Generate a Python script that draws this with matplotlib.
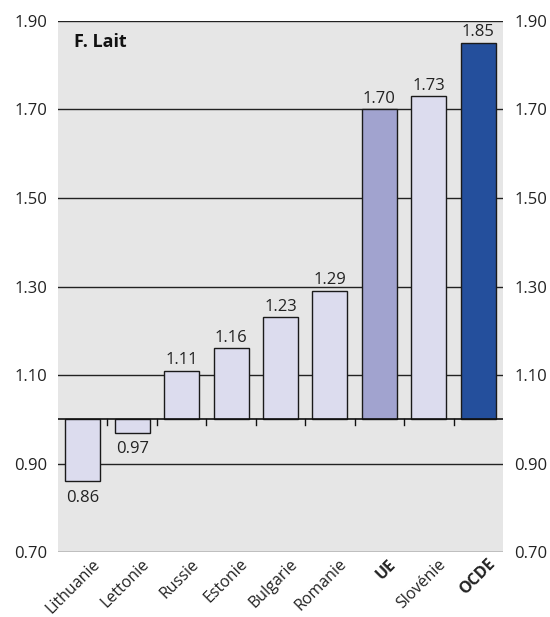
import matplotlib
matplotlib.use("Agg")
import matplotlib.pyplot as plt
import matplotlib.transforms as mtransforms
import numpy as np

# Milk: index values by country
categories = ["Lithuanie", "Lettonie", "Russie", "Estonie", "Bulgarie",
              "Romanie", "UE", "Slovénie", "OCDE"]
values = [0.86, 0.97, 1.11, 1.16, 1.23, 1.29, 1.70, 1.73, 1.85]
bold_labels = {"UE", "OCDE"}
bar_colors = ["#DCDCEE"] * 6 + ["#A1A3CF", "#DCDCEE", "#244F9C"]
yticks = [0.70, 0.90, 1.10, 1.30, 1.50, 1.70, 1.90]
baseline = 1.0
title = "F. Lait"

plt.rcParams["font.family"] = ["Open Sans", "DejaVu Sans"]

fig = plt.figure(figsize=(5.5, 6.17), dpi=100)
ax = fig.add_axes([0.1055, 0.1053, 0.809, 0.8607])
ax.set_facecolor("#E6E6E6")

x = np.arange(len(categories))
heights = [v - baseline for v in values]

# horizontal reference lines
for t in yticks:
    ax.axhline(t, color="#222222", lw=1.0, zorder=1)

ax.bar(x, heights, bottom=baseline, width=0.71, color=bar_colors,
       edgecolor="#1a1a1a", linewidth=1.0, zorder=2)

# baseline with small ticks between bars
ax.axhline(baseline, color="#111111", lw=1.2, zorder=3)
for b in x[:-1] + 0.5:
    ax.plot([b, b], [baseline, baseline - 0.014], color="#111111", lw=1.0,
            zorder=3, clip_on=False)

# value labels
for xi, v in zip(x, values):
    if v >= baseline:
        ax.text(xi, v + 0.006, f"{v:.2f}", ha="center", va="bottom",
                fontsize=12, color="#222222", zorder=4)
    else:
        ax.text(xi, v - 0.02, f"{v:.2f}", ha="center", va="top",
                fontsize=12, color="#222222", zorder=4)

ax.text(0.035, 0.977, title, transform=ax.transAxes, ha="left", va="top",
        fontsize=13, fontweight="bold", color="#111111", zorder=4)

ax.set_xlim(-0.5, len(categories) - 0.5)
ax.set_ylim(0.70, 1.90)
ax.set_yticks(yticks)
ax.set_yticklabels([f"{t:.2f}" for t in yticks])
ax.tick_params(axis="y", length=0, pad=8, labelsize=12, labelcolor="#222222",
               left=True, right=True, labelleft=True, labelright=True)

ax.set_xticks(x)
ax.set_xticklabels(categories)
ax.tick_params(axis="x", length=0, pad=3, labelsize=11.5, labelcolor="#222222")
shift = mtransforms.ScaledTranslation(9 / 100, 0, fig.dpi_scale_trans)
for lbl in ax.get_xticklabels():
    lbl.set_rotation(45)
    lbl.set_ha("right")
    lbl.set_va("top")
    lbl.set_rotation_mode("anchor")
    lbl.set_transform(lbl.get_transform() + shift)
    if lbl.get_text() in bold_labels:
        lbl.set_fontweight("bold")

for s in ax.spines.values():
    s.set_visible(False)

fig.savefig("out.png", dpi=100, facecolor="white")
